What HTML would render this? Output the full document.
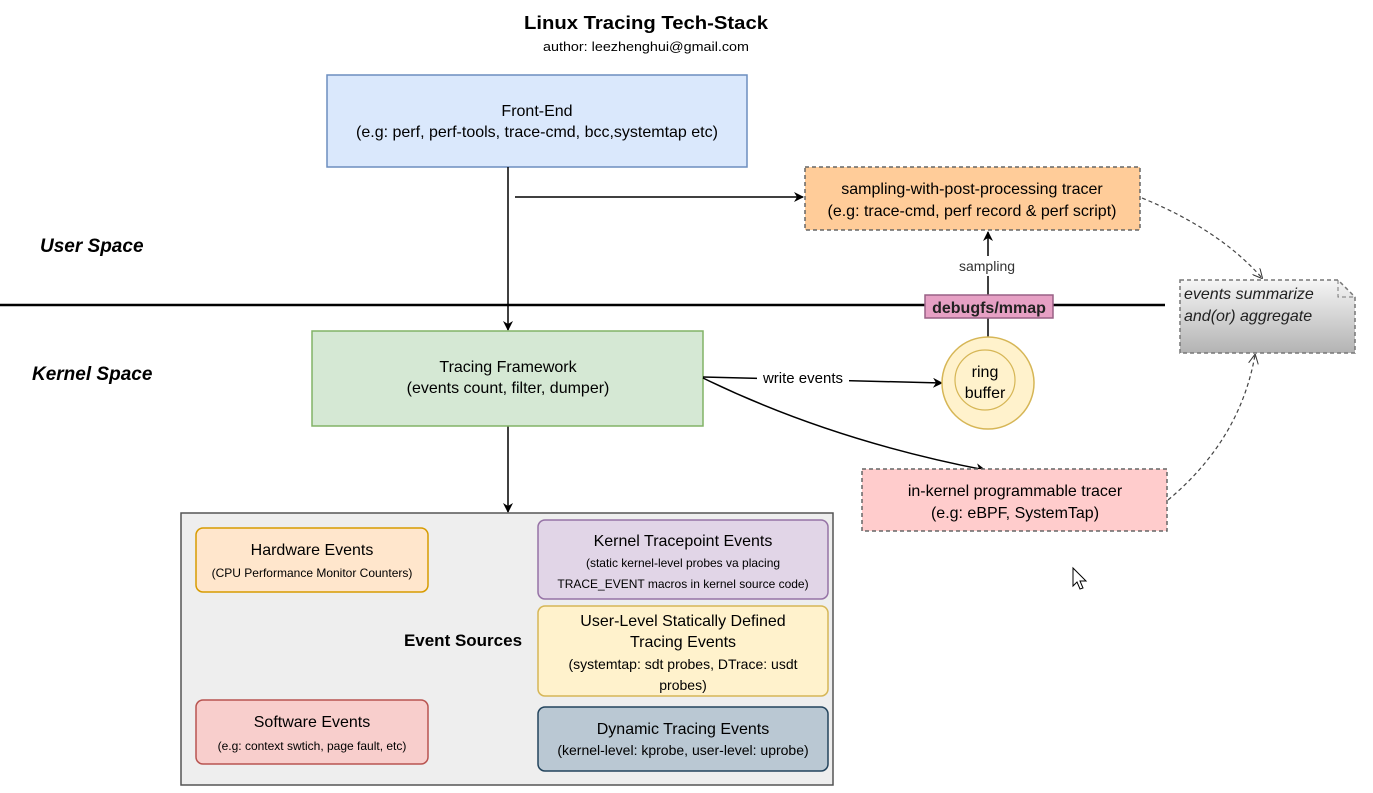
<!DOCTYPE html>
<html><head><meta charset="utf-8"><style>
html,body{margin:0;padding:0;background:#fff;}
svg{display:block;font-family:"Liberation Sans",sans-serif;}
</style></head><body>
<svg width="1373" height="793" viewBox="0 0 1373 793" xmlns="http://www.w3.org/2000/svg">
<defs>
<marker id="a" markerWidth="10" markerHeight="10" refX="9" refY="5" orient="auto" markerUnits="userSpaceOnUse"><path d="M0,0 L10,5 L0,10 L3,5 z" fill="#000"/></marker>
<marker id="o" markerWidth="10" markerHeight="10" refX="9" refY="5" orient="auto" markerUnits="userSpaceOnUse"><path d="M0,0 L10,5 L0,10" fill="none" stroke="#333"/></marker>
<linearGradient id="g" x1="0" y1="0" x2="0" y2="1"><stop offset="0" stop-color="#f5f5f5"/><stop offset="1" stop-color="#b3b3b3"/></linearGradient>
</defs>
<text x="646" y="29" text-anchor="middle" font-size="18" font-weight="bold" textLength="244" lengthAdjust="spacingAndGlyphs">Linux Tracing Tech-Stack</text>
<text x="646" y="51" text-anchor="middle" font-size="13" textLength="206" lengthAdjust="spacingAndGlyphs">author: leezhenghui@gmail.com</text>

<rect x="327" y="75" width="420" height="92" fill="#dae8fc" stroke="#6c8ebf" stroke-width="1.5"/>
<text x="537" y="116" text-anchor="middle" font-size="16">Front-End</text>
<text x="537" y="137" text-anchor="middle" font-size="16">(e.g: perf, perf-tools, trace-cmd, bcc,systemtap etc)</text>

<rect x="805" y="167" width="335" height="63" fill="#ffcc99" stroke="#666" stroke-width="1.5" stroke-dasharray="4,3"/>
<text x="972" y="194" text-anchor="middle" font-size="16">sampling-with-post-processing tracer</text>
<text x="972" y="216" text-anchor="middle" font-size="16">(e.g: trace-cmd, perf record &amp; perf script)</text>

<text x="40" y="252" font-size="19" font-weight="bold" font-style="italic">User Space</text>
<text x="32" y="380" font-size="19" font-weight="bold" font-style="italic">Kernel Space</text>

<line x1="0" y1="305" x2="1165" y2="305" stroke="#000" stroke-width="2.5"/>

<line x1="508" y1="167" x2="508" y2="330" stroke="#000" stroke-width="1.5" marker-end="url(#a)"/>
<line x1="515" y1="197" x2="803" y2="197" stroke="#000" stroke-width="1.5" marker-end="url(#a)"/>
<line x1="508" y1="426" x2="508" y2="512" stroke="#000" stroke-width="1.5" marker-end="url(#a)"/>

<line x1="988" y1="337" x2="988" y2="318" stroke="#000" stroke-width="1.5"/>
<line x1="988" y1="295" x2="988" y2="232" stroke="#000" stroke-width="1.5" marker-end="url(#a)"/>
<rect x="955" y="256" width="66" height="20" fill="#fff"/>
<text x="987" y="271" text-anchor="middle" font-size="14" fill="#333">sampling</text>

<rect x="925" y="295" width="128" height="23" fill="#e6a0c4" stroke="#996185" stroke-width="1.5"/>
<text x="989" y="313" text-anchor="middle" font-size="16" font-weight="bold" fill="#222">debugfs/mmap</text>

<rect x="312" y="331" width="391" height="95" fill="#d5e8d4" stroke="#82b366" stroke-width="1.5"/>
<text x="508" y="372" text-anchor="middle" font-size="16">Tracing Framework</text>
<text x="508" y="393" text-anchor="middle" font-size="16">(events count, filter, dumper)</text>

<path d="M703,377 Q820,380 942,383" fill="none" stroke="#000" stroke-width="1.5" marker-end="url(#a)"/>
<rect x="757" y="369" width="92" height="18" fill="#fff"/>
<text x="803" y="383" text-anchor="middle" font-size="15">write events</text>
<path d="M703,378 Q830,440 985,470" fill="none" stroke="#000" stroke-width="1.5" marker-end="url(#a)"/>

<circle cx="988" cy="383" r="46" fill="#fff2cc" stroke="#d6b656" stroke-width="1.5"/>
<circle cx="985" cy="380" r="30" fill="#fff2cc" stroke="#d6b656" stroke-width="1.2"/>
<text x="985" y="377" text-anchor="middle" font-size="16">ring</text>
<text x="985" y="398" text-anchor="middle" font-size="16">buffer</text>

<rect x="862" y="469" width="305" height="62" fill="#ffcccc" stroke="#666" stroke-width="1.5" stroke-dasharray="4,3"/>
<text x="1015" y="496" text-anchor="middle" font-size="16">in-kernel programmable tracer</text>
<text x="1015" y="518" text-anchor="middle" font-size="16">(e.g: eBPF, SystemTap)</text>

<path d="M1180,280 L1338,280 L1355,297 L1355,353 L1180,353 Z" fill="url(#g)" stroke="#777" stroke-width="1.5" stroke-dasharray="4,3"/>
<path d="M1338,280 L1338,297 L1355,297" fill="none" stroke="#777" stroke-dasharray="4,3"/>
<text x="1184" y="299" font-size="16" font-style="italic" fill="#222">events summarize</text>
<text x="1184" y="321" font-size="16" font-style="italic" fill="#222">and(or) aggregate</text>

<path d="M1142,198 Q1220,230 1262,278" fill="none" stroke="#444" stroke-width="1.2" stroke-dasharray="4,3" marker-end="url(#o)"/>
<path d="M1168,500 Q1240,440 1255,355" fill="none" stroke="#444" stroke-width="1.2" stroke-dasharray="4,3" marker-end="url(#o)"/>

<rect x="181" y="513" width="652" height="272" fill="#eeeeee" stroke="#555" stroke-width="1.5"/>
<text x="463" y="646" text-anchor="middle" font-size="17" font-weight="bold">Event Sources</text>

<rect x="196" y="528" width="232" height="64" rx="7" fill="#ffe6cc" stroke="#d79b00" stroke-width="1.5"/>
<text x="312" y="555" text-anchor="middle" font-size="16">Hardware Events</text>
<text x="312" y="577" text-anchor="middle" font-size="12">(CPU Performance Monitor Counters)</text>

<rect x="538" y="520" width="290" height="79" rx="7" fill="#e1d5e7" stroke="#9673a6" stroke-width="1.5"/>
<text x="683" y="546" text-anchor="middle" font-size="16">Kernel Tracepoint Events</text>
<text x="683" y="567" text-anchor="middle" font-size="12">(static kernel-level probes va placing</text>
<text x="683" y="588" text-anchor="middle" font-size="12">TRACE_EVENT macros in kernel source code)</text>

<rect x="538" y="606" width="290" height="90" rx="7" fill="#fff2cc" stroke="#d6b656" stroke-width="1.5"/>
<text x="683" y="626" text-anchor="middle" font-size="16">User-Level Statically Defined</text>
<text x="683" y="647" text-anchor="middle" font-size="16">Tracing Events</text>
<text x="683" y="669" text-anchor="middle" font-size="14">(systemtap: sdt probes, DTrace: usdt</text>
<text x="683" y="690" text-anchor="middle" font-size="14">probes)</text>

<rect x="196" y="700" width="232" height="64" rx="7" fill="#f8cecc" stroke="#b85450" stroke-width="1.5"/>
<text x="312" y="727" text-anchor="middle" font-size="16">Software Events</text>
<text x="312" y="750" text-anchor="middle" font-size="12">(e.g: context swtich, page fault, etc)</text>

<rect x="538" y="707" width="290" height="64" rx="7" fill="#bac8d3" stroke="#23445d" stroke-width="1.5"/>
<text x="683" y="734" text-anchor="middle" font-size="16">Dynamic Tracing Events</text>
<text x="683" y="755" text-anchor="middle" font-size="14">(kernel-level: kprobe, user-level: uprobe)</text>

<path d="M1073,568 L1073,586 L1077,582 L1080,589 L1083,588 L1080,581 L1086,581 Z" fill="#fff" stroke="#000" stroke-width="1"/>
</svg>
</body></html>
